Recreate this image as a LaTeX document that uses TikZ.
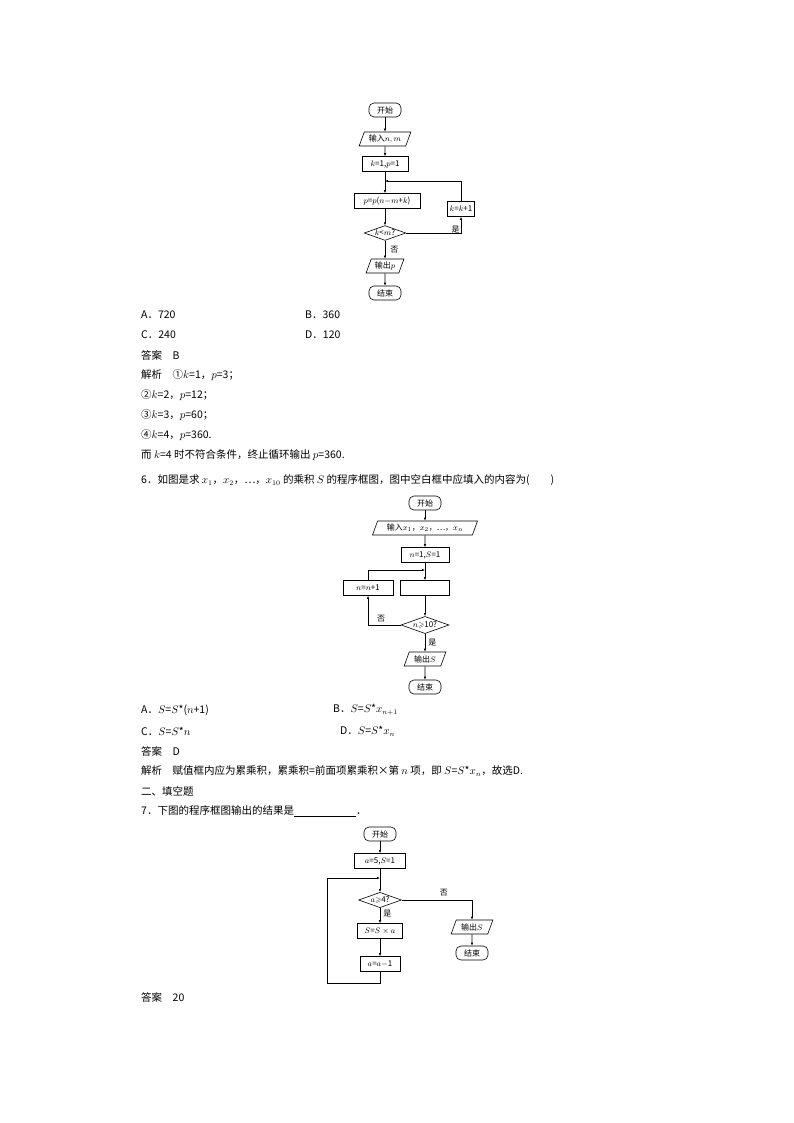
\documentclass[tikz,border=0pt]{standalone}
\usepackage{amssymb}
\usepackage{fontspec}
\setmainfont{Liberation Serif}
\newfontfamily\cjk{Noto Sans CJK SC}
\usetikzlibrary{shapes.geometric,positioning,arrows.meta}
\tikzset{%
  >=latex, % arrows
  flow/.style={font=\cjk\fontsize{8}{9}\selectfont,draw,line width=0.6pt,inner sep=2pt},
  term/.style={flow,rounded corners=5pt,minimum height=14pt,minimum width=32pt},
  proc/.style={flow,minimum height=15pt},
  io/.style={flow,trapezium,trapezium left angle=70,trapezium right angle=110,minimum height=14pt},
  cond/.style={flow,diamond,aspect=2.8,inner sep=0.5pt},
  line/.style={line width=0.6pt},
  arr/.style={line,-{Latex[length=3pt,width=2.5pt]}},
  txt/.style={font=\cjk\fontsize{10.5}{12}\selectfont,anchor=west,inner sep=0pt},
  lbl/.style={font=\cjk\fontsize{8}{9}\selectfont,inner sep=0pt}
}
\begin{document}
\begin{tikzpicture}[x=1pt,y=-1pt]
\useasboundingbox (0,0) rectangle (794,1123);

%% chart for question 5
\node[term] (s1) at (385,110) {开始};
\node[io] (in1) at (385,139) {输入$n,m$};
\node[proc,minimum width=46pt] (i1) at (385,164) {$k$=1,$p$=1};
\coordinate (j1) at (385,181);
\node[proc,minimum width=66pt] (p1) at (387,201) {$p$=$p$($n$$-$$m$+$k$)};
\node[proc] (k1) at (461,209) {$k$=$k$+1};
\node[cond] (d1) at (385,233) {$k$<$m$?};
\node[io] (o1) at (385,266) {输出$p$};
\node[term] (e1) at (385,293) {结束};
\draw[arr] (s1) -- (in1);
\draw[arr] (in1) -- (i1);
\draw[arr] (i1) -- (p1.north -| s1);
\draw[arr] (p1.south -| s1) -- (d1);
\draw[arr] (d1) -- node[lbl,right=5pt] {否} (o1);
\draw[arr] (o1) -- (e1);
\draw[arr] (d1.east) -| node[lbl,pos=0.45,above] {是} (k1.south);
\draw[arr] (k1.north) |- (j1);

%% text block 1
\node[txt] (a5) at (141,315) {A．720};
\node[txt] (b5) at (305,315) {B．360};
\node[txt] (c5) at (141,335) {C．240};
\node[txt] (d5) at (305,335) {D．120};
\node[txt] (ans5) at (141,355) {答案\quad B};
\node[txt] (jx1) at (141,375) {解析\quad ①$k$=1，$p$=3；};
\node[txt] (jx2) at (141,395) {②$k$=2，$p$=12；};
\node[txt] (jx3) at (141,415) {③$k$=3，$p$=60；};
\node[txt] (jx4) at (141,435) {④$k$=4，$p$=360.};
\node[txt] (jx5) at (141,455) {而 $k$=4 时不符合条件，终止循环输出 $p$=360.};
\node[txt] (q6) at (141,480) {6．如图是求 $x_1$，$x_2$，…，$x_{10}$ 的乘积 $S$ 的程序框图，图中空白框中应填入的内容为(\qquad )};

%% chart for question 6
\node[term] (s2) at (425,503) {开始};
\node[io] (in2) at (425,528) {输入$x_1$，$x_2$，…，$x_n$};
\node[proc,minimum width=48pt] (i2) at (425,555) {$n$=1,$S$=1};
\coordinate (j2) at (425,570);
\node[proc,minimum width=49pt] (p2) at (425,588) {};
\node[proc,minimum width=50pt] (n2) at (368,588) {$n$=$n$+1};
\node[cond] (d2) at (425,625) {$n$$\geqslant$10?};
\node[io] (o2) at (425,659) {输出$S$};
\node[term] (e2) at (425,687) {结束};
\draw[arr] (s2) -- (in2);
\draw[arr] (in2) -- (i2);
\draw[arr] (i2) -- (p2);
\draw[arr] (p2) -- (d2);
\draw[arr] (d2) -- node[lbl,right=3pt] {是} (o2);
\draw[arr] (o2) -- (e2);
\draw[arr] (d2.west) -| node[lbl,pos=0.3,above=3pt] {否} (n2.south);
\draw[arr] (n2.north) |- (j2);

%% text block 2
\node[txt] (a6) at (141,710) {A．$S$=$S$*($n$+1)};
\node[txt] (b6) at (333,710) {B．$S$=$S$*$x_{n+1}$};
\node[txt] (c6) at (141,731) {C．$S$=$S$*$n$};
\node[txt] (d6) at (340,731) {D．$S$=$S$*$x_n$};
\node[txt] (ans6) at (141,751) {答案\quad D};
\node[txt] (jx6) at (141,771) {解析\quad 赋值框内应为累乘积，累乘积=前面项累乘积×第 $n$ 项，即 $S$=$S$*$x_n$，故选D.};
\node[txt] (sec2) at (141,791) {二、填空题};
\node[txt] (q7) at (141,811) {7．下图的程序框图输出的结果是\underline{\hspace{62pt}}．};

%% chart for question 7
\node[term] (s3) at (380,834) {开始};
\node[proc,minimum width=51pt] (i3) at (380,861) {$a$=5,$S$=1};
\coordinate (j3) at (380,878);
\node[cond] (d3) at (380,900) {$a$$\geqslant$4?};
\node[proc,minimum width=45pt] (m3) at (380,931) {$S$=$S\times a$};
\node[proc,minimum width=40pt] (a3) at (380,964) {$a$=$a$$-$1};
\coordinate (b3) at (380,983);
\coordinate (c3) at (327,983);
\node[io] (o3) at (472,927) {输出$S$};
\node[term] (e3) at (472,953) {结束};
\draw[arr] (s3) -- (i3);
\draw[arr] (i3) -- (d3);
\draw[arr] (d3) -- node[lbl,right=3pt,pos=0.4] {是} (m3);
\draw[arr] (m3) -- (a3);
\draw[line] (a3) -- (b3) -- (c3);
\draw[arr] (c3) |- (j3);
\draw[arr] (d3.east) -| node[lbl,pos=0.3,above=4pt] {否} (o3.north);
\draw[arr] (o3) -- (e3);

\node[txt] (ans7) at (141,997) {答案\quad 20};
\end{tikzpicture}
\end{document}
